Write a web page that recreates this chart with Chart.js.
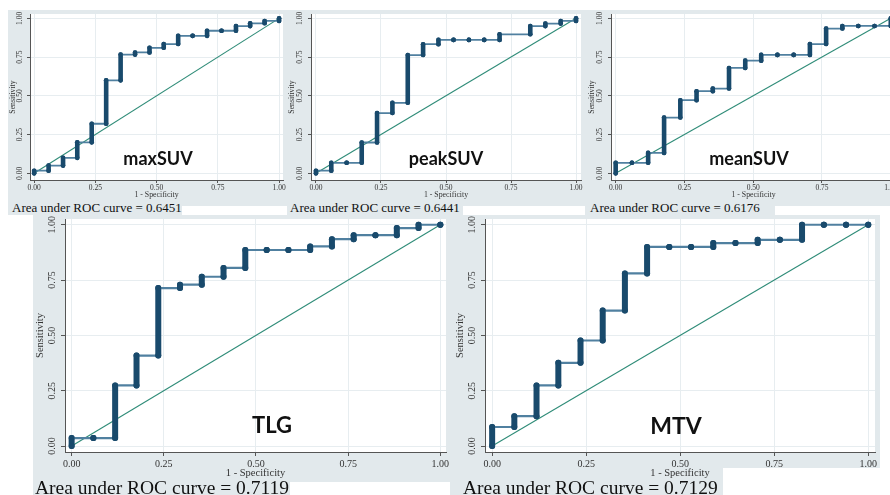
<!DOCTYPE html>
<html>
<head>
<meta charset="utf-8">
<script src="https://cdn.jsdelivr.net/npm/chart.js@4.4.0/dist/chart.umd.min.js"></script>
<style>
  html, body { margin: 0; padding: 0; background: #fff; width: 890px; height: 495px; overflow: hidden; position: relative; }
  canvas { position: absolute; background: #e2e9ec; }
  .auc { position: absolute; background: #e2e9ec; font-family: "Liberation Serif", serif; color: #111; white-space: nowrap; box-sizing: border-box; }
  .tag { position: absolute; font-family: Lato, sans-serif; font-weight: 700; color: #111; transform: translate(-50%, -50%); line-height: 1; white-space: nowrap; }
</style>
</head>
<body>
<canvas id="c1" width="279" height="196" style="left:8px;top:10px"></canvas>
<canvas id="c2" width="298" height="196" style="left:287px;top:10px"></canvas>
<canvas id="c3" width="315" height="196" style="left:585px;top:10px"></canvas>
<canvas id="c4" width="417" height="267" style="left:33px;top:215px"></canvas>
<canvas id="c5" width="430" height="267" style="left:450px;top:215px"></canvas>

<div class="auc" style="left:8px;top:199px;width:174px;height:16px;line-height:17px;padding-left:4px;font-size:13px">Area under ROC curve = 0.6451</div>
<div class="auc" style="left:287px;top:199px;width:176px;height:16px;line-height:17px;padding-left:3px;font-size:13px">Area under ROC curve = 0.6441</div>
<div class="auc" style="left:585px;top:199px;width:190px;height:16px;line-height:17px;padding-left:5px;font-size:13px">Area under ROC curve = 0.6176</div>
<div style="position:absolute;left:723px;top:468px;width:167px;height:14px;background:#fff"></div>
<div class="auc" style="left:33px;top:479px;width:257px;height:18px;line-height:18px;padding-left:2px;font-size:19.5px">Area under ROC curve = 0.7119</div>
<div class="auc" style="left:450px;top:479px;width:273px;height:18px;line-height:18px;padding-left:13px;font-size:19.5px">Area under ROC curve = 0.7129</div>

<div class="tag" style="left:158px;top:158px;font-size:18px">maxSUV</div>
<div class="tag" style="left:446px;top:158px;font-size:18px">peakSUV</div>
<div class="tag" style="left:749px;top:158px;font-size:18px">meanSUV</div>
<div class="tag" style="left:272px;top:425px;font-size:22px">TLG</div>
<div class="tag" style="left:676px;top:425px;font-size:23px">MTV</div>

<script>
// 1 - specificity at each cut-point, and sensitivity reached at the top of that step
const axisTicks = [0, 0.25, 0.5, 0.75, 1];
const chanceLine = [0, 1];

const maxSuvFpr  = [0, 0.059, 0.118, 0.176, 0.235, 0.294, 0.353, 0.412, 0.471, 0.529, 0.588, 0.647, 0.706, 0.765, 0.824, 0.882, 0.941, 1];
const maxSuvSens = [0.017, 0.05, 0.10, 0.20, 0.32, 0.60, 0.766, 0.78, 0.81, 0.834, 0.887, 0.887, 0.92, 0.92, 0.95, 0.968, 0.983, 1];

const peakSuvFpr  = [0, 0.059, 0.118, 0.176, 0.235, 0.294, 0.353, 0.412, 0.471, 0.529, 0.588, 0.647, 0.706, 0.824, 0.882, 0.941, 1];
const peakSuvSens = [0.017, 0.068, 0.068, 0.199, 0.389, 0.455, 0.763, 0.833, 0.861, 0.861, 0.861, 0.861, 0.897, 0.95, 0.966, 0.983, 1];

const meanSuvFpr  = [0, 0.059, 0.118, 0.176, 0.235, 0.294, 0.353, 0.412, 0.471, 0.529, 0.588, 0.647, 0.706, 0.765, 0.824, 0.882, 0.941, 1];
const meanSuvSens = [0.068, 0.068, 0.132, 0.36, 0.472, 0.53, 0.547, 0.68, 0.727, 0.764, 0.764, 0.764, 0.834, 0.934, 0.951, 0.951, 0.951, 1];

const tlgFpr  = [0, 0.059, 0.118, 0.176, 0.235, 0.294, 0.353, 0.412, 0.471, 0.529, 0.588, 0.647, 0.706, 0.765, 0.824, 0.882, 0.941, 1];
const tlgSens = [0.036, 0.036, 0.274, 0.409, 0.714, 0.729, 0.765, 0.805, 0.886, 0.886, 0.886, 0.902, 0.935, 0.953, 0.953, 0.985, 1, 1];

const mtvFpr  = [0, 0.059, 0.118, 0.176, 0.235, 0.294, 0.353, 0.412, 0.471, 0.529, 0.588, 0.647, 0.706, 0.765, 0.824, 0.882, 0.941, 1];
const mtvSens = [0.086, 0.135, 0.274, 0.376, 0.477, 0.612, 0.78, 0.90, 0.90, 0.90, 0.917, 0.917, 0.932, 0.932, 1, 1, 1, 1];

const dotColor = '#194a6c';
const stepColor = '#5080a0';
const diagColor = '#2f8c78';
const serif = '"Liberation Serif", "Times New Roman", serif';

// sizes for the small top panels and the big bottom panels
const small = { tick: 7.5, title: 7.8, tickLen: 3, tickPad: 1, dot: 2.3, run: 4.6, line: 1.8, yMin: -0.043, yMax: 1.028, xTitlePad: 6.8 };
const big   = { tick: 10, title: 10.5, tickLen: 4, tickPad: 2.5, dot: 3, run: 6, line: 2.2, yMin: -0.027, yMax: 1.026, xTitlePad: 2.4 };

// white plot region inside the grey panel
const plotBg = {
    id: 'plotBg',
    beforeDraw(chart) {
        const { ctx, chartArea: a } = chart;
        ctx.save();
        ctx.fillStyle = '#fff';
        ctx.fillRect(a.left, a.top, a.right - a.left, a.bottom - a.top);
        ctx.restore();
    }
};

// Stata style vertical y tick labels
const yLabels = {
    id: 'yLabels',
    afterDraw(chart, args, opts) {
        const s = chart.scales.y;
        const ctx = chart.ctx;
        ctx.save();
        ctx.font = opts.size + 'px ' + serif;
        ctx.fillStyle = '#333';
        ctx.textAlign = 'center';
        ctx.textBaseline = 'middle';
        s.ticks.forEach(t => {
            ctx.save();
            ctx.translate(s.right - opts.offset, s.getPixelForValue(t.value));
            ctx.rotate(-Math.PI / 2);
            ctx.fillText(t.value.toFixed(2), 0, 0);
            ctx.restore();
        });
        ctx.restore();
    }
};

// turn step tops into the staircase path drawn by the line
function stairs(fpr, sens) {
    const pts = [{ x: fpr[0], y: 0 }];
    fpr.forEach((x, i) => {
        if (i > 0) pts.push({ x: x, y: sens[i - 1] });
        pts.push({ x: x, y: sens[i] });
    });
    return pts;
}

function makeRoc(id, fpr, sens, g, p) {
    const vertical = c => c.p0.parsed.x === c.p1.parsed.x;
    return new Chart(document.getElementById(id), {
        type: 'scatter',
        data: {
            datasets: [{
                data: stairs(fpr, sens),
                showLine: true,
                tension: 0,
                borderCapStyle: 'round',
                borderColor: stepColor,
                borderWidth: g.line,
                pointRadius: g.dot,
                pointBorderWidth: 0,
                pointBackgroundColor: dotColor,
                segment: {
                    borderWidth: c => vertical(c) ? g.run : g.line,
                    borderColor: c => vertical(c) ? dotColor : stepColor
                }
            }, {
                data: chanceLine.map(v => ({ x: v, y: v })),
                showLine: true,
                borderColor: diagColor,
                borderWidth: 1.1,
                pointRadius: 0
            }]
        },
        options: {
            responsive: false,
            animation: false,
            events: [],
            layout: { padding: { left: 0, top: p.padTop, right: p.padRight, bottom: 0 } },
            plugins: {
                legend: { display: false },
                tooltip: { enabled: false },
                yLabels: { size: g.tick, offset: p.labelOffset }
            },
            scales: {
                x: {
                    type: 'linear',
                    min: p.xMin,
                    max: p.xMax,
                    afterBuildTicks: s => { s.ticks = axisTicks.map(v => ({ value: v })); },
                    afterFit: s => { s.height = p.xHeight; s.paddingLeft = 0; s.paddingRight = 0; },
                    grid: { color: '#e7edf0', tickColor: '#555', tickLength: g.tickLen },
                    border: { color: '#555' },
                    ticks: {
                        padding: g.tickPad,
                        maxRotation: 0,
                        autoSkip: false,
                        color: '#333',
                        font: { family: serif, size: g.tick },
                        callback: v => v.toFixed(2)
                    },
                    title: {
                        display: true,
                        text: '1 - Specificity',
                        color: '#333',
                        font: { family: serif, size: g.title },
                        padding: { top: 0, bottom: g.xTitlePad }
                    }
                },
                y: {
                    type: 'linear',
                    min: g.yMin,
                    max: g.yMax,
                    afterBuildTicks: s => { s.ticks = axisTicks.map(v => ({ value: v })); },
                    afterFit: s => { s.width = p.yWidth; s.paddingTop = 0; s.paddingBottom = 0; },
                    grid: { color: '#e7edf0', tickColor: '#555', tickLength: g.tickLen },
                    border: { color: '#555' },
                    ticks: { display: false },
                    title: {
                        display: true,
                        text: 'Sensitivity',
                        color: '#333',
                        font: { family: serif, size: g.title },
                        padding: { top: p.yTitlePad, bottom: 0 }
                    }
                }
            }
        },
        plugins: [plotBg, yLabels]
    });
}

makeRoc('c1', maxSuvFpr, maxSuvSens, small,
    { yWidth: 22, padTop: 3, padRight: 0, xHeight: 26, xMin: -0.017, xMax: 1.016, yTitlePad: 0.6, labelOffset: 9.5 });
makeRoc('c2', peakSuvFpr, peakSuvSens, small,
    { yWidth: 24, padTop: 3, padRight: 0, xHeight: 26, xMin: -0.019, xMax: 1.019, yTitlePad: 0, labelOffset: 10.5 });
makeRoc('c3', meanSuvFpr, meanSuvSens, small,
    { yWidth: 26, padTop: 3, padRight: 0, xHeight: 26, xMin: -0.017, xMax: 1.019, yTitlePad: 2.3, labelOffset: 11 });
makeRoc('c4', tlgFpr, tlgSens, big,
    { yWidth: 32, padTop: 3, padRight: 2, xHeight: 30, xMin: -0.018, xMax: 1.0154, yTitlePad: 0.7, labelOffset: 13 });
makeRoc('c5', mtvFpr, mtvSens, big,
    { yWidth: 35, padTop: 3, padRight: 5, xHeight: 30, xMin: -0.019, xMax: 1.018, yTitlePad: 3.7, labelOffset: 13 });
</script>
</body>
</html>
